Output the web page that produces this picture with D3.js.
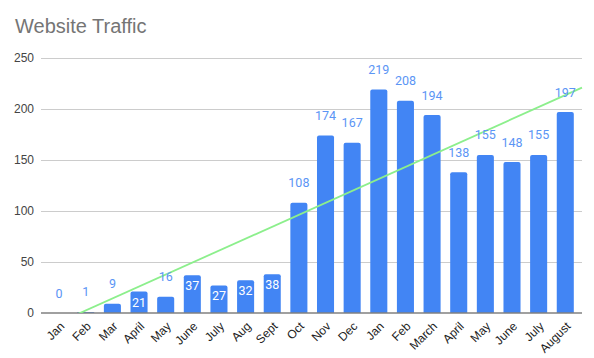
<!DOCTYPE html>
<html><head><meta charset="utf-8">
<script src="https://cdn.jsdelivr.net/npm/d3@7"></script>
<style>body{margin:0;background:#fff}svg{display:block}</style>
</head><body>
<svg id="c" width="594" height="358"></svg>
<script>
const categories = ["Jan","Feb","Mar","April","May","June","July","Aug","Sept","Oct","Nov","Dec","Jan","Feb","March","April","May","June","July","August"];
const values = [0,1,9,21,16,37,27,32,38,108,174,167,219,208,194,138,155,148,155,197];
const insideLabels = [false,false,false,true,false,true,true,true,true,false,false,false,false,false,false,false,false,false,false,false];
const yTicks = [0,50,100,150,200,250];
const title = "Website Traffic";

const svg = d3.select("#c");
const plotL = 41, plotR = 582, plotT = 58, plotB = 313;
const y = d3.scaleLinear().domain([0,250]).range([plotB, plotT]);
const x = d3.scaleBand().domain(d3.range(categories.length)).range([45.8, 578.6]).paddingInner(0.36).paddingOuter(0.18);

svg.append("text").attr("x",15).attr("y",33).attr("font-family","Liberation Sans, Arial, sans-serif")
  .attr("font-size",20).attr("fill","#757575").text(title);

// gridlines
svg.append("g").selectAll("line").data(yTicks.filter(d=>d>0)).join("line")
  .attr("x1",plotL).attr("x2",plotR).attr("y1",d=>Math.round(y(d))+0.5).attr("y2",d=>Math.round(y(d))+0.5)
  .attr("stroke","#cccccc").attr("stroke-width",1);

// y labels
svg.append("g").selectAll("text").data(yTicks).join("text")
  .attr("x",34).attr("y",d=>y(d)+4.3).attr("text-anchor","end")
  .attr("font-family","Liberation Sans, Arial, sans-serif").attr("font-size",12).attr("fill","#444")
  .text(d=>d);

// bars
const r = 2;
svg.append("g").selectAll("path").data(values).join("path")
  .attr("d",(d,i)=>{
    const x0 = x(i), w = x.bandwidth(), y0 = y(d), h = plotB - y0;
    const rr = Math.min(r, h/2, w/2);
    return `M${x0},${plotB}V${y0+rr}Q${x0},${y0} ${x0+rr},${y0}H${x0+w-rr}Q${x0+w},${y0} ${x0+w},${y0+rr}V${plotB}Z`;
  })
  .attr("fill","#4285f4");

// baseline
svg.append("line").attr("x1",plotL).attr("x2",plotR).attr("y1",plotB).attr("y2",plotB)
  .attr("stroke","#808080").attr("stroke-width",1.3);

// trendline (least squares over data)
const n = values.length;
const mx = d3.mean(d3.range(n)), my = d3.mean(values);
const sxy = d3.sum(values,(v,i)=>(i-mx)*(v-my)), sxx = d3.sum(d3.range(n),i=>(i-mx)*(i-mx));
const slope = sxy/sxx, icpt = my - slope*mx;
const idx = px => (px - x(0) - x.bandwidth()/2) / x.step();
svg.append("clipPath").attr("id","clip").append("rect")
  .attr("x",plotL).attr("y",plotT-40).attr("width",plotR-plotL+10).attr("height",plotB-plotT+40);
svg.append("line").attr("clip-path","url(#clip)")
  .attr("x1",plotL).attr("y1",y(icpt+slope*idx(plotL)))
  .attr("x2",plotR).attr("y2",y(icpt+slope*idx(plotR)))
  .attr("stroke","#8cef8c").attr("stroke-width",1.8);

// data labels
svg.append("g").selectAll("text").data(values).join("text")
  .attr("x",(d,i)=>x(i)+x.bandwidth()/2)
  .attr("y",(d,i)=> insideLabels[i] ? y(d)+15 : y(d)-15.5)
  .attr("text-anchor","middle").attr("font-family","Roboto, Arial, sans-serif").attr("font-size",12.5)
  .attr("fill",(d,i)=> insideLabels[i] ? "#ffffff" : "#5b95f5")
  .text(d=>d);

// x labels
svg.append("g").selectAll("text").data(categories).join("text")
  .attr("transform",(d,i)=>`translate(${x(i)+x.bandwidth()/2+6},${plotB+14}) rotate(-45)`)
  .attr("text-anchor","end").attr("font-family","Liberation Sans, Arial, sans-serif").attr("font-size",12)
  .attr("fill","#222").text(d=>d);
</script>
</body></html>
